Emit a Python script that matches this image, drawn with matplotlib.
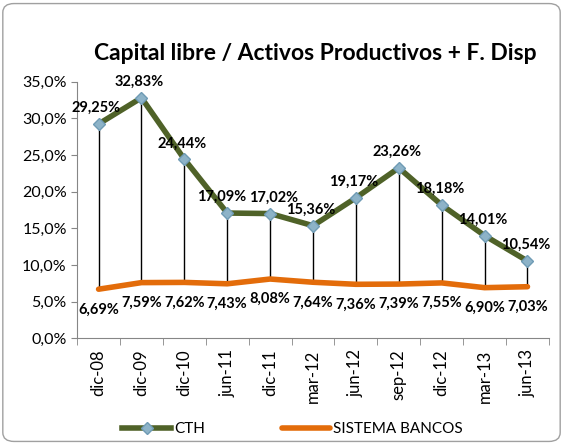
import numpy as np
import matplotlib.pyplot as plt
from matplotlib.patches import FancyBboxPatch
from matplotlib.ticker import FuncFormatter

plt.rcParams['font.family'] = ['Lato', 'DejaVu Sans']

# datos
fechas = ['dic-08', 'dic-09', 'dic-10', 'jun-11', 'dic-11', 'mar-12',
          'jun-12', 'sep-12', 'dic-12', 'mar-13', 'jun-13']
cth = [29.25, 32.83, 24.44, 17.09, 17.02, 15.36, 19.17, 23.26, 18.18, 14.01, 10.54]
bancos = [6.69, 7.59, 7.62, 7.43, 8.08, 7.64, 7.36, 7.39, 7.55, 6.90, 7.03]


def pct(v, dec=2):
    return f"{v:.{dec}f}%".replace('.', ',')


fig = plt.figure(figsize=(5.63, 4.45), dpi=100)
ax = fig.add_axes([0.137, 0.240, 0.838, 0.576])

x = np.arange(len(fechas))

# lineas verticales entre series
for i in x:
    ax.plot([i, i], [bancos[i], cth[i]], color='black', lw=1, zorder=1)

ax.plot(x, bancos, color='#E36C0A', lw=4, solid_capstyle='round', zorder=2,
        label='SISTEMA BANCOS')
ax.plot(x, cth, color='#4F6228', lw=4, marker='D', markersize=6,
        markerfacecolor='#8DB3C8', markeredgecolor='#6F9BB5', zorder=3,
        label='CTH')

# etiquetas (las de jun-11 y dic-11 se separan un poco)
dx = {3: -0.12, 4: 0.08}
for i in x:
    ax.text(i + dx.get(i, -0.05), cth[i] + 1.2, pct(cth[i]), ha='center',
            va='bottom', fontsize=10.5, fontweight='bold')
    ax.text(i, bancos[i] - 1.8, pct(bancos[i]), ha='center', va='top',
            fontsize=10.5, fontweight='bold')

ax.set_xlim(-0.5, len(fechas) - 0.5)
ax.set_ylim(0, 35)
ax.set_yticks(np.arange(0, 36, 5))
ax.yaxis.set_major_formatter(FuncFormatter(lambda v, p: pct(v, 1)))
ax.set_xticks(x)
ax.set_xticklabels(fechas, rotation=90, fontsize=12)
ax.set_xticks(np.arange(-0.5, len(fechas), 1), minor=True)
ax.tick_params(axis='x', which='major', length=0, pad=8)
ax.tick_params(axis='x', which='minor', length=5, color='#868686')
ax.tick_params(axis='y', length=4, color='#868686', labelsize=11.5)

for s in ['top', 'right']:
    ax.spines[s].set_visible(False)
for s in ['left', 'bottom']:
    ax.spines[s].set_color('#868686')

fig.text(0.56, 0.88, 'Capital libre / Activos Productivos + F. Disp',
         ha='center', va='center', fontsize=16.5, fontweight='bold')

h, l = ax.get_legend_handles_labels()
fig.legend(h[::-1], l[::-1], loc='center', bbox_to_anchor=(0.52, 0.035),
           ncol=2, frameon=False, fontsize=11, handlelength=3.2,
           columnspacing=5, handletextpad=0.2)

fig.patches.append(FancyBboxPatch((0.005, 0.008), 0.99, 0.984,
                                  boxstyle='round,pad=0,rounding_size=0.02',
                                  transform=fig.transFigure, fill=False,
                                  edgecolor='#A0A0A0', lw=1))

fig.savefig('out.png', dpi=100)
